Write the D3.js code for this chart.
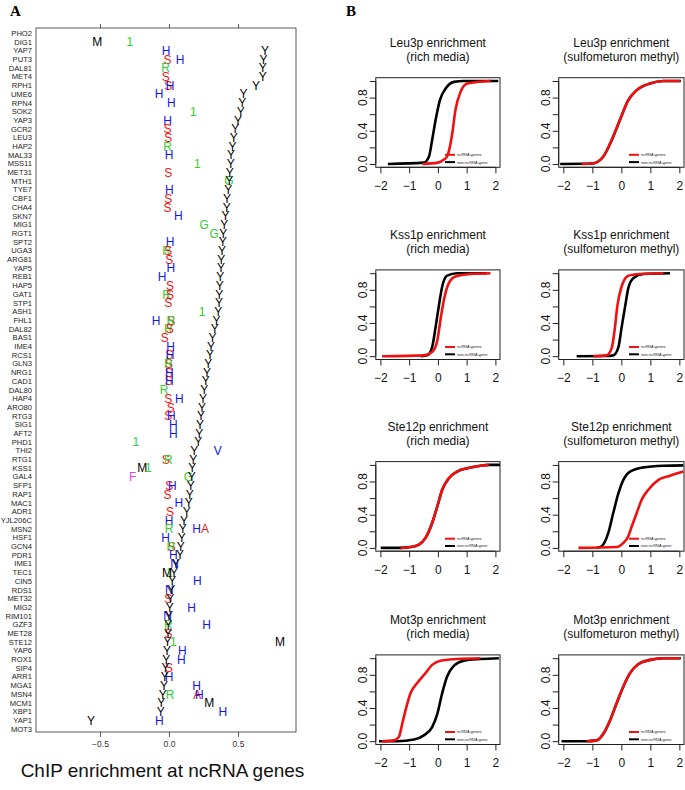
<!DOCTYPE html>
<html>
<head>
<meta charset="utf-8">
<script src="https://cdn.jsdelivr.net/npm/d3@7"></script>
<style>
  body { margin: 0; background: #fff; }
  svg { display: block; font-family: "Liberation Sans", Arial, sans-serif; }
</style>
</head>
<body>
<svg width="685" height="790"></svg>
<script>
// ---- panel A data ----
const genes = ["PHO2","DIG1","YAP7","PUT3","DAL81","MET4","RPH1","UME6","RPN4","SOK2","YAP3","GCR2","LEU3","HAP2","MAL33","MSS11","MET31","MTH1","TYE7","CBF1","CHA4","SKN7","MIG1","RGT1","SPT2","UGA3","ARG81","YAP5","REB1","HAP5","GAT1","STP1","ASH1","FHL1","DAL82","BAS1","IME4","RCS1","GLN3","NRG1","CAD1","DAL80","HAP4","ARO80","RTG3","SIG1","AFT2","PHD1","THI2","RTG1","KSS1","GAL4","SFP1","RAP1","MAC1","ADR1","YJL206C","MSN2","HSF1","GCN4","PDR1","IME1","TEC1","CIN5","RDS1","MET32","MIG2","RIM101","GZF3","MET28","STE12","YAP6","ROX1","SIP4","ARR1","MGA1","MSN4","MCM1","XBP1","YAP1","MOT3"];

// "Y" enrichment per gene (null = not drawn)
const yValues = [null,null,0.696,0.684,0.68,0.68,0.63,0.54,0.53,0.52,0.50,0.48,0.47,0.46,0.45,0.447,0.44,0.437,0.43,0.42,0.418,0.41,0.40,0.394,0.39,0.384,0.379,0.377,0.372,0.367,0.365,0.362,0.357,0.345,0.331,0.316,0.305,0.297,0.285,0.275,0.266,0.256,0.246,0.239,0.232,0.225,0.22,0.212,0.183,0.176,0.169,0.164,0.157,0.15,0.143,0.128,0.109,0.099,0.092,0.085,0.08,0.05,0.036,0.024,0.017,0.01,0.005,0,-0.005,-0.007,-0.01,-0.015,-0.02,-0.025,-0.03,-0.036,-0.046,-0.056,-0.06,-0.565,null];

// other letters: [gene, letter, value]
const otherMarks = [
  ["DIG1","M",-0.52],["DIG1","1",-0.283],["YAP7","H",-0.022],["PUT3","S",-0.01],["PUT3","H",0.08],
  ["DAL81","R",-0.024],["MET4","S",-0.024],["RPH1","S",-0.005],["RPH1","H",0.007],["UME6","H",-0.072],
  ["RPN4","H",0.017],["SOK2","1",0.176],["YAP3","H",-0.01],["GCR2","S",-0.01],["LEU3","S",-0.005],
  ["HAP2","R",-0.01],["MAL33","H",0],["MSS11","1",0.205],["MET31","S",-0.005],["MTH1","G",0.435],
  ["TYE7","H",0.002],["CBF1","S",-0.005],["CHA4","S",-0.01],["SKN7","H",0.068],["MIG1","G",0.254],
  ["RGT1","G",0.328],["SPT2","H",0.007],["UGA3","R",-0.017],["UGA3","S",-0.005],["ARG81","S",0.002],
  ["YAP5","H",0.014],["REB1","H",-0.05],["HAP5","S",0.007],["GAT1","R",-0.017],["GAT1","S",0.007],
  ["STP1","S",-0.005],["ASH1","1",0.239],["FHL1","H",-0.094],["FHL1","S",0.017],["FHL1","R",0.014],
  ["DAL82","R",-0.005],["DAL82","S",0.005],["BAS1","S",-0.03],["IME4","H",0.012],["RCS1","S",0.002],
  ["RCS1","H",0.007],["GLN3","S",0.0],["GLN3","R",-0.005],["NRG1","S",0.0],["NRG1","H",0.002],
  ["CAD1","S",-0.002],["CAD1","H",0.002],["DAL80","R",-0.036],["HAP4","S",-0.005],["HAP4","H",0.075],
  ["ARO80","S",0.012],["RTG3","S",-0.005],["RTG3","H",0.017],["SIG1","H",0.031],["AFT2","H",0.031],
  ["PHD1","1",-0.241],["THI2","V",0.353],["RTG1","S",-0.024],["RTG1","R",-0.005],["KSS1","M",-0.193],
  ["KSS1","1",-0.15],["GAL4","F",-0.263],["GAL4","G",0.14],["SFP1","S",0.002],["SFP1","H",0.024],
  ["RAP1","S",-0.01],["MAC1","H",0.072],["ADR1","S",0.007],["YJL206C","H",0],["MSN2","R",0],
  ["MSN2","H",0.2],["MSN2","A",0.261],["HSF1","H",-0.024],["GCN4","S",0.02],["GCN4","R",0.014],
  ["PDR1","H",0.031],["IME1","N",0.04],["TEC1","1",0.003],["TEC1","M",-0.015],["CIN5","H",0.205],
  ["RDS1","N",0.002],["MET32","S",-0.005],["MIG2","H",0.164],["RIM101","N",-0.01],["GZF3","R",-0.005],
  ["GZF3","H",0.273],["MET28","S",-0.003],["STE12","1",0.031],["STE12","M",0.804],["YAP6","H",0.097],
  ["ROX1","H",0.09],["SIP4","S",0.0],["ARR1","H",0.0],["MGA1","H",0.2],["MSN4","R",0.007],
  ["MSN4","A",0.205],["MSN4","H",0.22],["MCM1","M",0.292],["XBP1","H",0.39],["YAP1","H",-0.07]
];
const letterColors = {Y:"#000",M:"#000",H:"#1414f0",N:"#1414f0",V:"#1414f0",S:"#f01414",A:"#f01414",R:"#33cc33","1":"#33cc33",G:"#33cc33",F:"#f040f0"};
const axisTicksA = [-0.5, 0, 0.5];

// ---- panel B data ----
const panelTitles = [
  ["Leu3p enrichment","(rich media)"],["Leu3p enrichment","(sulfometuron methyl)"],
  ["Kss1p enrichment","(rich media)"],["Kss1p enrichment","(sulfometuron methyl)"],
  ["Ste12p enrichment","(rich media)"],["Ste12p enrichment","(sulfometuron methyl)"],
  ["Mot3p enrichment","(rich media)"],["Mot3p enrichment","(sulfometuron methyl)"]
];
const nonNcCurves = [
  [[-1.74,0],[-0.49,0.016],[-0.31,0.09],[-0.2,0.29],[-0.08,0.53],[0.07,0.77],[0.27,0.91],[0.56,0.99],[0.9,1],[2.1,1]],
  [[-2.11,0],[-1.0,0.005],[-0.62,0.09],[-0.33,0.29],[-0.05,0.53],[0.24,0.77],[0.53,0.89],[0.99,0.97],[1.45,1],[2.05,1]],
  [[-0.6,0],[-0.37,0.01],[-0.2,0.11],[-0.08,0.35],[0.03,0.6],[0.15,0.84],[0.32,0.97],[0.67,1],[1.7,1]],
  [[-1.54,0],[-0.5,0.003],[-0.28,0.01],[-0.1,0.11],[0.01,0.35],[0.13,0.6],[0.24,0.82],[0.41,0.94],[0.76,0.99],[1.68,1]],
  [[-1.99,0],[-1.3,0],[-0.95,0.01],[-0.66,0.04],[-0.43,0.12],[-0.2,0.3],[-0.02,0.5],[0.15,0.7],[0.38,0.84],[0.67,0.92],[1.02,0.96],[1.48,0.99],[1.77,1],[2.16,1]],
  [[-0.85,0],[-0.68,0.02],[-0.45,0.18],[-0.28,0.42],[-0.1,0.66],[0.07,0.82],[0.3,0.92],[0.76,0.97],[1.45,0.99],[2.14,0.995]],
  [[-2.05,0],[-1.41,0],[-0.83,0.02],[-0.49,0.07],[-0.2,0.17],[-0.02,0.33],[0.15,0.58],[0.32,0.78],[0.56,0.91],[0.9,0.97],[1.48,0.99],[2.12,1]],
  [[-2.06,0],[-1.2,0],[-0.85,0.01],[-0.62,0.09],[-0.39,0.25],[-0.16,0.46],[0.07,0.66],[0.3,0.82],[0.59,0.93],[0.99,0.98],[1.45,1],[2.05,1]]
];
const ncCurves = [
  [[-0.54,0],[0,0.016],[0.2,0.05],[0.32,0.09],[0.4,0.18],[0.5,0.37],[0.61,0.65],[0.79,0.87],[1.02,0.97],[1.83,1]],
  [[-1.37,0],[-0.97,0.008],[-0.62,0.09],[-0.33,0.29],[-0.05,0.53],[0.24,0.77],[0.53,0.89],[0.99,0.97],[1.45,1],[2.02,1]],
  [[-1.94,0],[-0.49,0.01],[-0.2,0.05],[-0.02,0.19],[0.09,0.44],[0.21,0.68],[0.38,0.88],[0.61,0.96],[1.14,0.99],[1.83,1]],
  [[-0.97,0],[-0.51,0.01],[-0.33,0.1],[-0.22,0.35],[-0.14,0.6],[0.01,0.84],[0.24,0.97],[0.64,0.99],[1.45,1]],
  [[-1.3,0],[-0.95,0.01],[-0.66,0.04],[-0.43,0.12],[-0.2,0.3],[-0.02,0.5],[0.15,0.7],[0.38,0.84],[0.67,0.92],[1.02,0.96],[1.48,0.99],[1.77,1]],
  [[-1.48,0],[-0.16,0.01],[0.07,0.06],[0.24,0.14],[0.36,0.26],[0.53,0.42],[0.7,0.58],[0.93,0.7],[1.28,0.82],[1.68,0.87],[2.14,0.92]],
  [[-1.95,0],[-1.53,0.01],[-1.36,0.05],[-1.24,0.21],[-1.12,0.38],[-0.95,0.58],[-0.72,0.7],[-0.43,0.82],[-0.2,0.92],[0.09,0.97],[0.67,0.99],[1.48,1]],
  [[-1.2,0],[-0.85,0.01],[-0.62,0.09],[-0.39,0.25],[-0.16,0.46],[0.07,0.66],[0.3,0.82],[0.59,0.93],[0.99,0.98],[1.45,1],[2.02,1]]
];
const xTicksB = [-2, -1, 0, 1, 2];
const yTicksB = [0, 0.2, 0.4, 0.6, 0.8, 1];
const yLabelsB = [0, 0.4, 0.8];
const legendLabels = ["ncRNA genes", "non-ncRNA gene"];

const svg = d3.select("svg");
const fmt1 = d3.format(".1f");
const minus = s => s.replace("-", "\u2212");

// ================= panel A =================
(function() {
  const left = 36, right = 296, top = 28, bottom = 732;
  const x = d3.scaleLinear().domain([-0.9638, 0.9203]).range([left, right]);
  const y = d3.scalePoint().domain(genes).range([33.3, 729]);
  const g = svg.append("g");

  g.append("text").attr("x", 10).attr("y", 16)
    .attr("font-family", "Liberation Serif, Times New Roman, serif")
    .attr("font-weight", "bold").attr("font-size", 15).text("A");

  g.append("rect").attr("x", left).attr("y", top)
    .attr("width", right - left).attr("height", bottom - top)
    .attr("fill", "none").attr("stroke", "#333").attr("stroke-width", 0.8);

  const ax = g.append("g").attr("transform", "translate(0," + bottom + ")")
    .call(d3.axisBottom(x).tickValues(axisTicksA).tickSize(5).tickPadding(4)
      .tickFormat(d => minus(fmt1(d))));
  ax.select(".domain").remove();
  ax.selectAll("line").attr("stroke", "#333").attr("stroke-width", 0.8);
  ax.selectAll("text").attr("font-size", 8.5).attr("fill", "#333")
    .attr("font-family", "Liberation Sans, Arial, sans-serif");

  const axTop = g.append("g").attr("transform", "translate(0," + top + ")")
    .call(d3.axisTop(x).tickValues(axisTicksA).tickSize(4).tickFormat(""));
  axTop.select(".domain").remove();
  axTop.selectAll("line").attr("stroke", "#333").attr("stroke-width", 0.8);

  g.selectAll("text.gene").data(genes).enter().append("text")
    .attr("class", "gene")
    .attr("x", 32).attr("y", d => y(d)).attr("dy", "0.35em")
    .attr("text-anchor", "end").attr("font-size", 7.6).attr("fill", "#222")
    .text(d => d);

  const yMarks = genes.map((gname, i) => [gname, "Y", yValues[i]]).filter(d => d[2] !== null);
  const marks = otherMarks.concat(yMarks);
  g.selectAll("text.mark").data(marks).enter().append("text")
    .attr("class", "mark")
    .attr("x", d => x(d[2])).attr("y", d => y(d[0])).attr("dy", "0.36em")
    .attr("text-anchor", "middle").attr("font-size", 12)
    .attr("fill", d => letterColors[d[1]])
    .text(d => d[1]);

  g.append("text").attr("x", 162.5).attr("y", 777)
    .attr("text-anchor", "middle").attr("font-size", 19).attr("fill", "#111")
    .text("ChIP enrichment at ncRNA genes");
})();

// ================= panel B =================
svg.append("text").attr("x", 346).attr("y", 16)
  .attr("font-family", "Liberation Serif, Times New Roman, serif")
  .attr("font-weight", "bold").attr("font-size", 15).text("B");

function drawEcdfPanel(i) {
  const col = i % 2, row = Math.floor(i / 2);
  const rowTops = [77.7, 269.9, 461.6, 654.9];
  const boxLeft = col === 0 ? 375.8 : 558.7;
  const boxW = col === 0 ? 124.2 : 125.3;
  const boxTop = rowTops[row], boxH = 89.6;
  const x = d3.scaleLinear().domain([-2.16, 2.16]).range([boxLeft, boxLeft + boxW]);
  const y = d3.scaleLinear().domain([-0.04, 1.04]).range([boxTop + boxH, boxTop]);
  const g = svg.append("g");
  const cx = boxLeft + boxW / 2;

  g.append("text").attr("x", cx).attr("y", boxTop - 31)
    .attr("text-anchor", "middle").attr("font-size", 12).attr("fill", "#111")
    .text(panelTitles[i][0]);
  g.append("text").attr("x", cx).attr("y", boxTop - 17)
    .attr("text-anchor", "middle").attr("font-size", 12).attr("fill", "#111")
    .text(panelTitles[i][1]);

  const clipId = "clip" + i;
  g.append("clipPath").attr("id", clipId).append("rect")
    .attr("x", boxLeft).attr("y", boxTop).attr("width", boxW).attr("height", boxH);

  const line = d3.line().x(d => x(d[0])).y(d => y(d[1])).curve(d3.curveMonotoneX);
  const curves = g.append("g").attr("clip-path", "url(#" + clipId + ")");
  curves.append("path").attr("d", line(nonNcCurves[i]))
    .attr("fill", "none").attr("stroke", "#000").attr("stroke-width", 2.6);
  curves.append("path").attr("d", line(ncCurves[i]))
    .attr("fill", "none").attr("stroke", "#f01010").attr("stroke-width", 2.6);

  g.append("rect").attr("x", boxLeft).attr("y", boxTop)
    .attr("width", boxW).attr("height", boxH)
    .attr("fill", "none").attr("stroke", "#222").attr("stroke-width", 1);

  const ax = g.append("g").attr("transform", "translate(0," + (boxTop + boxH) + ")")
    .call(d3.axisBottom(x).tickValues(xTicksB).tickSize(6).tickPadding(8)
      .tickFormat(d => minus(String(d))));
  ax.select(".domain").attr("d", "M" + x(-2) + ",0H" + x(2)).attr("stroke", "#222");
  ax.selectAll("line").attr("stroke", "#222");
  ax.selectAll("text").attr("font-size", 12).attr("fill", "#111")
    .attr("font-family", "Liberation Sans, Arial, sans-serif");

  const ay = g.append("g").attr("transform", "translate(" + boxLeft + ",0)")
    .call(d3.axisLeft(y).tickValues(yTicksB).tickSize(6).tickFormat(""));
  ay.select(".domain").attr("d", "M0," + y(0) + "V" + y(1)).attr("stroke", "#222");
  ay.selectAll("line").attr("stroke", "#222");
  g.selectAll("text.ylab").data(yLabelsB).enter().append("text")
    .attr("class", "ylab")
    .attr("transform", d => "translate(" + (boxLeft - 8.5) + "," + y(d) + ") rotate(-90)")
    .attr("text-anchor", "middle").attr("font-size", 12).attr("fill", "#111")
    .text(d => fmt1(d));

  // legend
  const lx = boxLeft + boxW - 55, ly = boxTop + boxH - 12.5;
  const lg = g.append("g");
  [["#f01010", legendLabels[0]], ["#000", legendLabels[1]]].forEach((it, k) => {
    lg.append("line").attr("x1", lx).attr("x2", lx + 10)
      .attr("y1", ly + k * 7.3).attr("y2", ly + k * 7.3)
      .attr("stroke", it[0]).attr("stroke-width", 2);
    lg.append("text").attr("x", lx + 12).attr("y", ly + k * 7.3).attr("dy", "0.35em")
      .attr("font-size", 4).attr("fill", "#222").text(it[1]);
  });
}
for (let i = 0; i < 8; i++) drawEcdfPanel(i);
</script>
</body>
</html>
